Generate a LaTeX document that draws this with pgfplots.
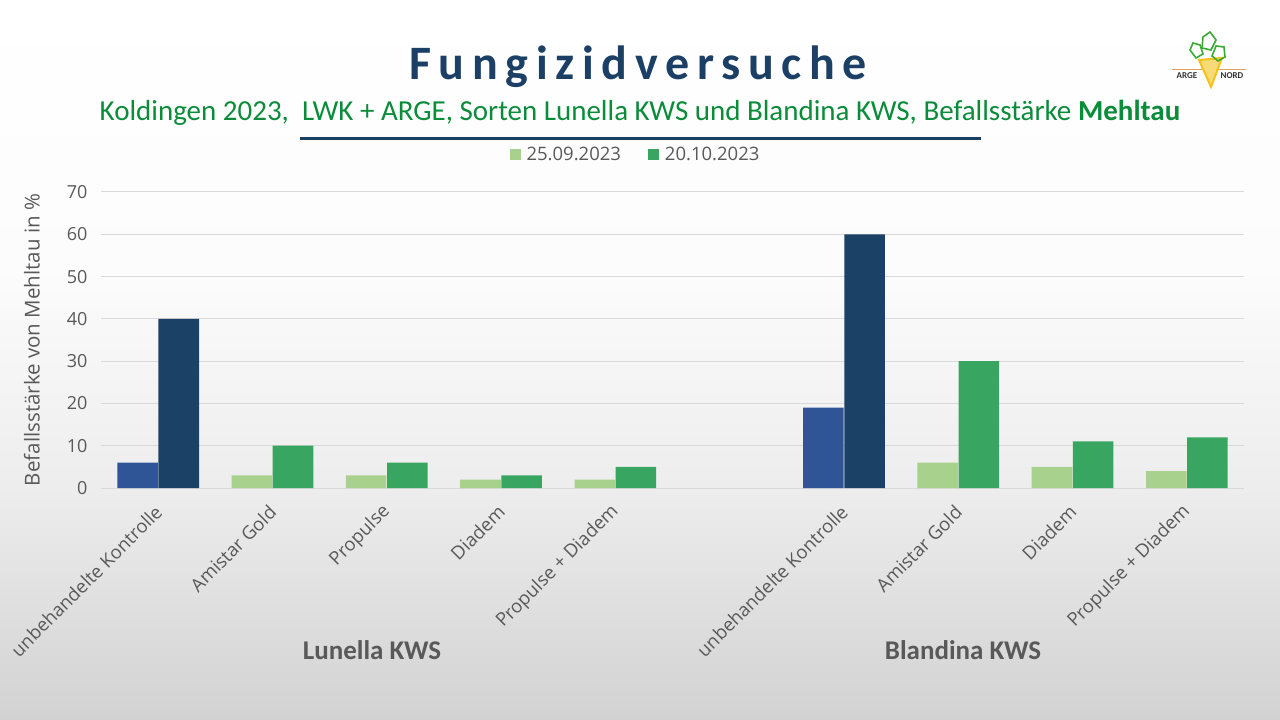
\documentclass[border=0pt]{standalone}
\usepackage{fontspec}
\setmainfont{Open Sans}
\newfontfamily\carlito{Carlito}
\newfontfamily\titlefont[LetterSpace=16]{Carlito}
\usepackage{pgfplots}
\pgfplotsset{compat=1.18}
\definecolor{ctitle}{HTML}{1C3F66}
\definecolor{csub}{HTML}{0B8C3A}
\definecolor{ctxt}{HTML}{595959}
\definecolor{cgrid}{HTML}{D9D9D9}
\definecolor{clight}{HTML}{A9D18E}
\definecolor{cgreen}{HTML}{38A660}
\definecolor{cblue}{HTML}{2F5597}
\definecolor{cdark}{HTML}{1C4166}
\definecolor{bg0}{HTML}{D2D2D2}
\definecolor{bg1}{HTML}{EDEDED}
\definecolor{bg2}{HTML}{FCFCFC}
\definecolor{logogreen}{HTML}{3AAA35}
\definecolor{logoyellow}{HTML}{F4C21B}
\definecolor{logoorange}{HTML}{E0A060}
\begin{document}
\begin{tikzpicture}
% background
\shade[bottom color=bg0, top color=bg1, draw=none] (0bp,0bp) rectangle (1280bp,232bp);
\shade[bottom color=bg1, top color=bg2, draw=none] (0bp,232bp) rectangle (1280bp,450bp);
\shade[bottom color=bg2, top color=white, draw=none] (0bp,450bp) rectangle (1280bp,720bp);
% title
\node[anchor=base, text=ctitle, inner sep=0pt] at (638bp,640bp) {\fontsize{48bp}{54bp}\titlefont\bfseries Fungizidversuche};
\node[anchor=base, text=csub, inner sep=0pt] at (640bp,599bp) {\fontsize{29bp}{34bp}\carlito Koldingen 2023,\ \ LWK + ARGE, Sorten Lunella KWS und Blandina KWS, Befallsstärke \textbf{Mehltau}};
\draw[ctitle, line width=3bp] (300bp,581bp) -- (981bp,581bp);
% logo
\draw[logoorange, line width=0.6bp] (1172bp,651bp) -- (1202bp,651bp);
\draw[logoorange, line width=0.6bp] (1218bp,651bp) -- (1246bp,651bp);
\draw[logoyellow, line width=2bp, fill=logoyellow!60] (1199bp,660bp) -- (1222bp,662bp) -- (1211bp,633bp) -- cycle;
\draw[logogreen, line width=1.6bp] (1196bp,662bp) -- (1190bp,670bp) -- (1193bp,677bp) -- (1200bp,675bp) -- (1203bp,666bp) -- cycle;
\draw[logogreen, line width=1.6bp] (1202bp,672bp) -- (1203bp,683bp) -- (1210bp,688bp) -- (1216bp,680bp) -- (1211bp,670bp) -- cycle;
\draw[logogreen, line width=1.6bp] (1212bp,664bp) -- (1216bp,674bp) -- (1224bp,673bp) -- (1225bp,663bp) -- (1218bp,659bp) -- cycle;
\node[anchor=base, inner sep=0pt, text=black!80] at (1187bp,641bp) {\fontsize{9bp}{10bp}\carlito\bfseries ARGE};
\node[anchor=base, inner sep=0pt, text=black!80] at (1232bp,641bp) {\fontsize{9bp}{10bp}\carlito\bfseries NORD};
\begin{axis}[
  at={(101bp,232bp)}, anchor=south west,
  scale only axis, width=1143bp, height=296bp,
  xmin=-0.5, xmax=9.5, ymin=0, ymax=70,
  ytick={0,10,...,70},
  xtick={0,1,2,3,4,6,7,8,9},
  xticklabels={unbehandelte Kontrolle, Amistar Gold, Propulse, Diadem, Propulse + Diadem, unbehandelte Kontrolle, Amistar Gold, Diadem, Propulse + Diadem},
  major tick length=0pt,
  axis line style={draw=none},
  ymajorgrids, grid style={cgrid, line width=1bp},
  /pgf/number format/assume math mode=true,
  yticklabel style={font=\fontsize{18bp}{20bp}\selectfont, text=ctxt, anchor=east, xshift=-10bp},
  xticklabel style={font=\fontsize{18.5bp}{20bp}\selectfont, text=ctxt, rotate=45, anchor=east, xshift=-11bp, yshift=-15bp},
  ylabel={Befallsstärke von Mehltau in \%},
  ylabel style={font=\fontsize{20.5bp}{22bp}\selectfont, text=ctxt, at={(axis description cs:-0.0604,0.5)}, anchor=center},
  legend style={at={(axis description cs:0.4676,1.125)}, anchor=center, draw=none, fill=none,
    legend columns=2, font=\fontsize{18.5bp}{20bp}\selectfont, text=ctxt,
    /tikz/every even column/.append style={column sep=25bp},
    /tikz/every odd column/.append style={column sep=4bp}},
  legend image code/.code={\fill[#1, draw=none] (0bp,-5.5bp) rectangle (11bp,5.5bp);},
  clip=false,
]
\addplot[ybar, bar width=0.355, bar shift=-0.18, fill=clight, draw=none] coordinates {(1,3) (2,3) (3,2) (4,2) (7,6) (8,5) (9,4)};
\addlegendentry{25.09.2023}
\addplot[ybar, bar width=0.355, bar shift=0.18, fill=cgreen, draw=none] coordinates {(1,10) (2,6) (3,3) (4,5) (7,30) (8,11) (9,12)};
\addlegendentry{20.10.2023}
\addplot[ybar, bar width=0.355, bar shift=-0.18, fill=cblue, draw=none, forget plot] coordinates {(0,6) (6,19)};
\addplot[ybar, bar width=0.355, bar shift=0.18, fill=cdark, draw=none, forget plot] coordinates {(0,40) (6,60)};
\end{axis}
\node[anchor=base, text=ctxt, inner sep=0pt] at (372bp,60bp) {\fontsize{27bp}{30bp}\carlito\bfseries Lunella KWS};
\node[anchor=base, text=ctxt, inner sep=0pt] at (963bp,60bp) {\fontsize{27bp}{30bp}\carlito\bfseries Blandina KWS};
\end{tikzpicture}
\end{document}
